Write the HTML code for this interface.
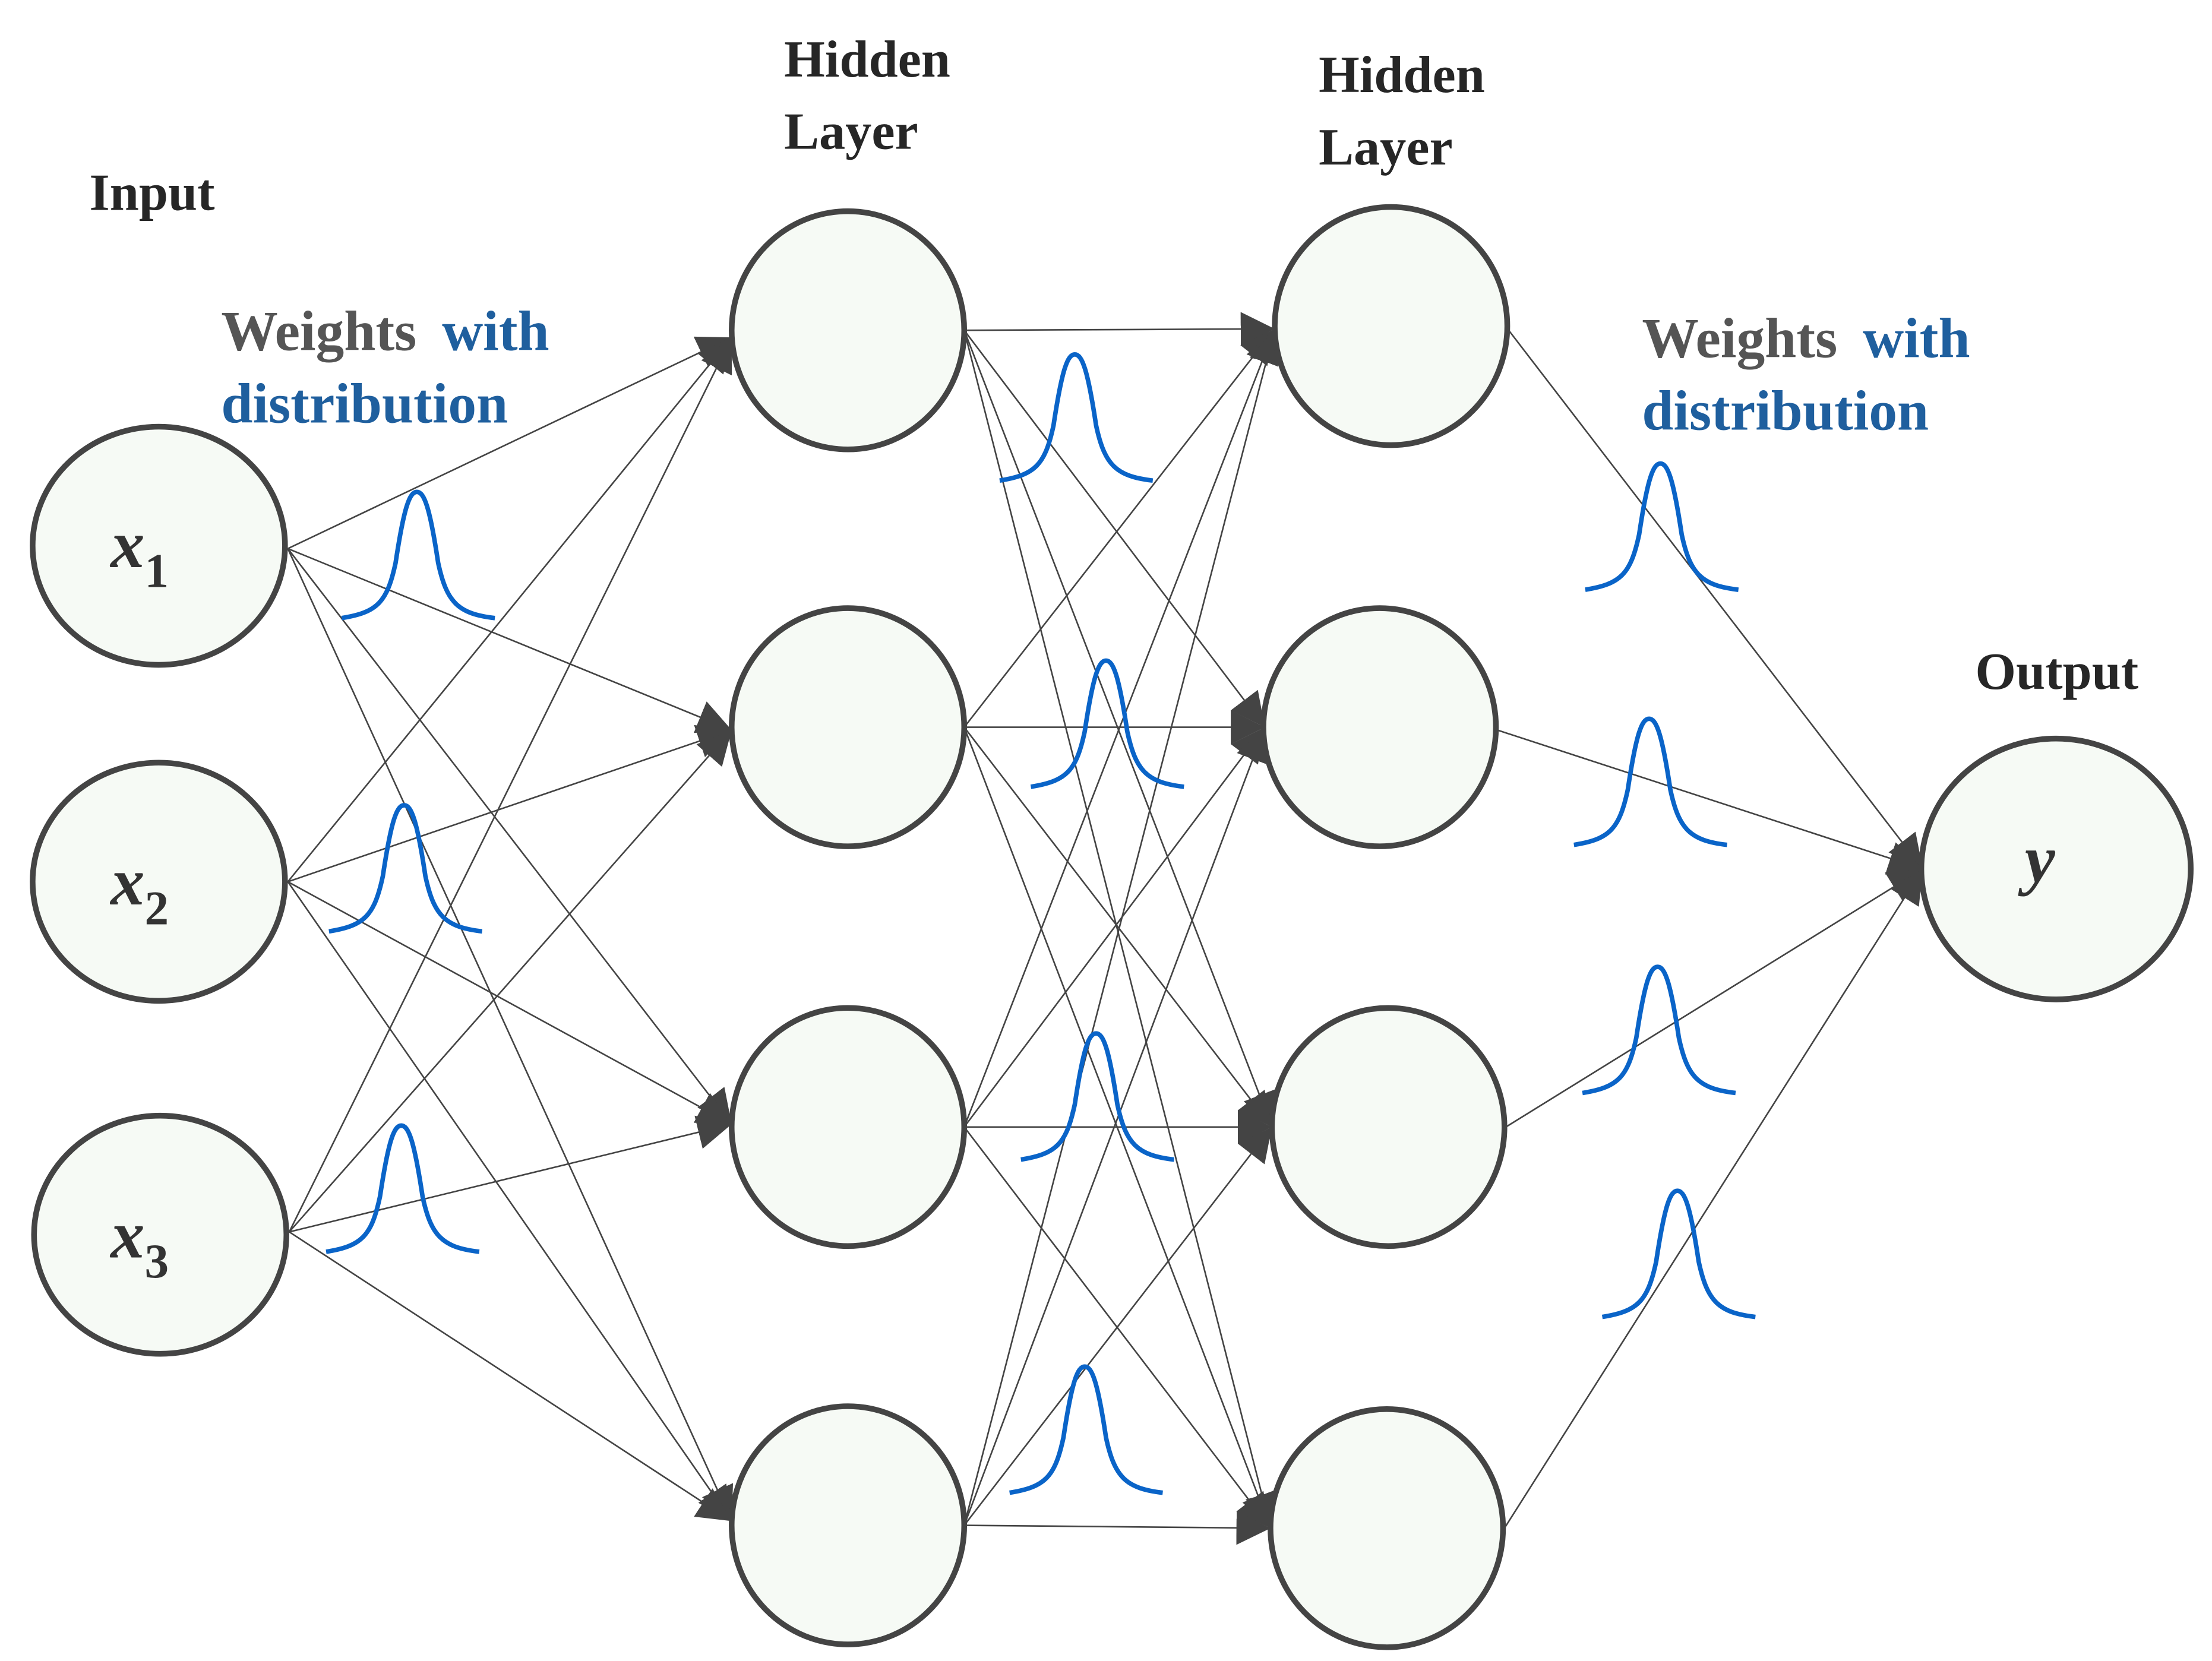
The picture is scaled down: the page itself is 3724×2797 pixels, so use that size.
<!DOCTYPE html>
<html><head><meta charset="utf-8"><style>
html,body{margin:0;padding:0;background:#fff;}
svg{display:block;}
.t{font-family:"Liberation Serif",serif;font-weight:bold;font-size:37px;fill:#262626;}
.g{font-family:"Liberation Serif",serif;font-weight:bold;font-size:40px;fill:#555;}
.b{font-family:"Liberation Serif",serif;font-weight:bold;font-size:40px;fill:#1f5f9e;}
.m{font-family:"Liberation Serif",serif;font-weight:bold;font-style:italic;font-size:48px;fill:#333;}
.s{font-family:"Liberation Serif",serif;font-weight:bold;font-size:34px;fill:#333;}
</style></head><body>
<svg width="3724" height="2797" viewBox="0 0 1560 1171.7" preserveAspectRatio="none" xmlns="http://www.w3.org/2000/svg">
<defs>
<marker id="a" markerUnits="userSpaceOnUse" markerWidth="24" markerHeight="24" viewBox="0 0 10 10" refX="10" refY="5" orient="auto">
<path d="M0,0 L10,5 L0,10 z" fill="#444"/>
</marker>
</defs>
<g stroke="#444" stroke-width="1.1" fill="none" marker-end="url(#a)">
<line x1="203" y1="387" x2="516" y2="238"/><line x1="203" y1="387" x2="516" y2="515"/><line x1="203" y1="387" x2="516" y2="793"/><line x1="203" y1="387" x2="516" y2="1073"/>
<line x1="203" y1="622" x2="516" y2="238"/><line x1="203" y1="622" x2="516" y2="515"/><line x1="203" y1="622" x2="516" y2="793"/><line x1="203" y1="622" x2="516" y2="1073"/>
<line x1="204" y1="869" x2="516" y2="238"/><line x1="204" y1="869" x2="516" y2="515"/><line x1="204" y1="869" x2="516" y2="793"/><line x1="204" y1="869" x2="516" y2="1073"/>
<line x1="680" y1="233" x2="899" y2="232"/><line x1="680" y1="233" x2="892" y2="513"/><line x1="680" y1="233" x2="897" y2="795"/><line x1="680" y1="233" x2="896" y2="1078"/>
<line x1="680" y1="513" x2="899" y2="232"/><line x1="680" y1="513" x2="892" y2="513"/><line x1="680" y1="513" x2="897" y2="795"/><line x1="680" y1="513" x2="896" y2="1078"/>
<line x1="680" y1="795" x2="899" y2="232"/><line x1="680" y1="795" x2="892" y2="513"/><line x1="680" y1="795" x2="897" y2="795"/><line x1="680" y1="795" x2="896" y2="1078"/>
<line x1="680" y1="1076" x2="899" y2="232"/><line x1="680" y1="1076" x2="892" y2="513"/><line x1="680" y1="1076" x2="897" y2="795"/><line x1="680" y1="1076" x2="896" y2="1078"/>
<line x1="1064" y1="233" x2="1356" y2="613"/><line x1="1056" y1="515" x2="1356" y2="613"/><line x1="1062" y1="795" x2="1356" y2="613"/><line x1="1061" y1="1078" x2="1356" y2="613"/>
</g>
<g fill="#f6faf5" stroke="#444" stroke-width="4">
<ellipse cx="112" cy="385" rx="89" ry="84"/>
<ellipse cx="112" cy="622" rx="89" ry="84"/>
<ellipse cx="113" cy="871" rx="89" ry="84"/>
<ellipse cx="598" cy="233" rx="82" ry="84"/>
<ellipse cx="598" cy="513" rx="82" ry="84"/>
<ellipse cx="598" cy="795" rx="82" ry="84"/>
<ellipse cx="598" cy="1076" rx="82" ry="84"/>
<ellipse cx="981" cy="230" rx="82" ry="84"/>
<ellipse cx="973" cy="513" rx="82" ry="84"/>
<ellipse cx="979" cy="795" rx="82" ry="84"/>
<ellipse cx="978" cy="1078" rx="82" ry="84"/>
<ellipse cx="1450" cy="613" rx="95" ry="92"/>
</g>
<g fill="none" stroke="#0a64c8" stroke-width="3.2">
<path d="M0,89 C25,85 32,78 38,50 C44,10 48,0 53,0 C58,0 62,10 68,50 C74,78 82,86 108,89" transform="translate(241,347)"/>
<path d="M0,89 C25,85 32,78 38,50 C44,10 48,0 53,0 C58,0 62,10 68,50 C74,78 82,86 108,89" transform="translate(232,568)"/>
<path d="M0,89 C25,85 32,78 38,50 C44,10 48,0 53,0 C58,0 62,10 68,50 C74,78 82,86 108,89" transform="translate(230,794)"/>
<path d="M0,89 C25,85 32,78 38,50 C44,10 48,0 53,0 C58,0 62,10 68,50 C74,78 82,86 108,89" transform="translate(705,250)"/>
<path d="M0,89 C25,85 32,78 38,50 C44,10 48,0 53,0 C58,0 62,10 68,50 C74,78 82,86 108,89" transform="translate(727,466)"/>
<path d="M0,89 C25,85 32,78 38,50 C44,10 48,0 53,0 C58,0 62,10 68,50 C74,78 82,86 108,89" transform="translate(720,729)"/>
<path d="M0,89 C25,85 32,78 38,50 C44,10 48,0 53,0 C58,0 62,10 68,50 C74,78 82,86 108,89" transform="translate(712,964)"/>
<path d="M0,89 C25,85 32,78 38,50 C44,10 48,0 53,0 C58,0 62,10 68,50 C74,78 82,86 108,89" transform="translate(1118,327)"/>
<path d="M0,89 C25,85 32,78 38,50 C44,10 48,0 53,0 C58,0 62,10 68,50 C74,78 82,86 108,89" transform="translate(1110,507)"/>
<path d="M0,89 C25,85 32,78 38,50 C44,10 48,0 53,0 C58,0 62,10 68,50 C74,78 82,86 108,89" transform="translate(1116,682)"/>
<path d="M0,89 C25,85 32,78 38,50 C44,10 48,0 53,0 C58,0 62,10 68,50 C74,78 82,86 108,89" transform="translate(1130,840)"/>
</g>
<text class="t" x="63" y="148">Input</text>
<text class="t" x="553" y="54">Hidden</text>
<text class="t" x="553" y="105">Layer</text>
<text class="t" x="930" y="65">Hidden</text>
<text class="t" x="930" y="116">Layer</text>
<text class="t" x="1393" y="486">Output</text>
<text x="156" y="247"><tspan class="g">Weights</tspan><tspan class="b" dx="18">with</tspan></text>
<text class="b" x="156" y="298">distribution</text>
<text x="1158" y="252"><tspan class="g">Weights</tspan><tspan class="b" dx="18">with</tspan></text>
<text class="b" x="1158" y="303">distribution</text>
<text x="78" y="400"><tspan class="m">x</tspan><tspan class="s" dy="14">1</tspan></text>
<text x="78" y="638"><tspan class="m">x</tspan><tspan class="s" dy="14">2</tspan></text>
<text x="78" y="887"><tspan class="m">x</tspan><tspan class="s" dy="14">3</tspan></text>
<text class="m" x="1428" y="622">y</text>
</svg>
</body></html>
